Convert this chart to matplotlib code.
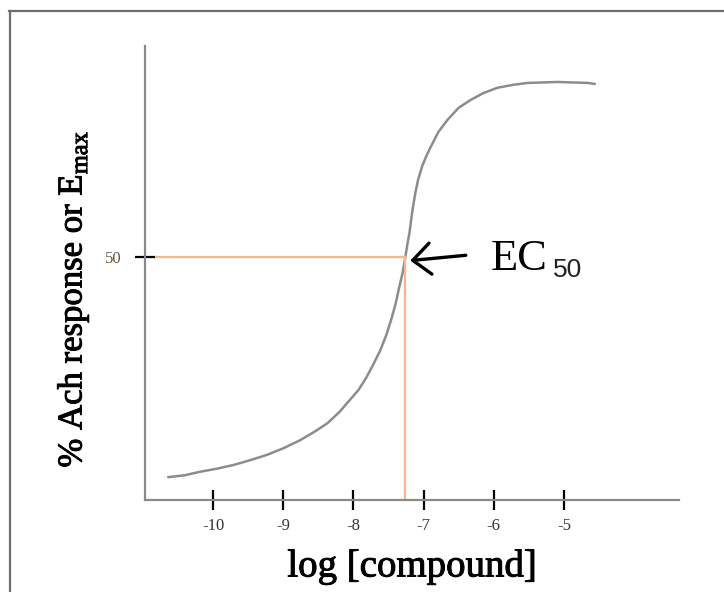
import matplotlib
matplotlib.use('Agg')
import matplotlib.pyplot as plt
import matplotlib.patheffects as pe
from matplotlib.lines import Line2D

plt.rcParams['axes.unicode_minus'] = False
plt.rcParams['mathtext.fontset'] = 'custom'
plt.rcParams['mathtext.rm'] = 'Liberation Serif'

# dose-response curve
log_conc = [-10.64, -10.40, -10.19, -9.96, -9.71, -9.47, -9.23, -8.99, -8.76,
            -8.56, -8.37, -8.20, -8.05, -7.93, -7.82, -7.72, -7.62, -7.53,
            -7.46, -7.40, -7.35, -7.30, -7.26, -7.23, -7.20, -7.16, -7.12,
            -7.08, -7.02, -6.96, -6.90, -6.79, -6.66, -6.50, -6.33, -6.15,
            -5.95, -5.73, -5.52, -5.09, -4.66, -4.56]
response = [4.7, 5.1, 5.8, 6.4, 7.2, 8.2, 9.3, 10.7, 12.3,
            14.0, 15.8, 18.1, 20.6, 22.6, 25.1, 27.8, 30.7, 34.0,
            37.2, 40.3, 43.6, 46.7, 50.0, 52.7, 55.1, 59.5, 63.0,
            65.8, 68.7, 70.8, 72.6, 75.7, 78.2, 80.7, 82.3, 83.7,
            84.8, 85.4, 85.8, 86.0, 85.8, 85.6]

x_ticks = [-10, -9, -8, -7, -6, -5]
x_tick_labels = ['-10', '-9', '-8', '-7', '-6', '-5']
ec50_x = -7.26
ec50_y = 50

fig = plt.figure(figsize=(7.24, 5.92), dpi=100)
ax = fig.add_axes([0.2003, 0.1554, 0.7376, 0.7669])

ax.plot(log_conc, response, color='#8c8c8c', linewidth=1.8,
        solid_capstyle='round', solid_joinstyle='round')

# EC50 guide lines
ax.plot([-10.82, ec50_x], [ec50_y, ec50_y], color='#f7b68a', linewidth=1.6)
ax.plot([ec50_x, ec50_x], [ec50_y, 0], color='#f7b68a', linewidth=1.6)

ax.set_xlim(-10.97, -3.36)
ax.set_ylim(0, 93.4)

for side in ['top', 'right']:
    ax.spines[side].set_visible(False)
for side in ['left', 'bottom']:
    ax.spines[side].set_color('#8a8a8a')
    ax.spines[side].set_linewidth(1.6)

ax.set_xticks(x_ticks)
ax.set_xticklabels(x_tick_labels, family='Liberation Serif', fontsize=12, color='#333333')
ax.tick_params(axis='x', direction='inout', length=14, width=1.6, color='black', pad=6)

ax.set_yticks([ec50_y])
ax.set_yticklabels(['50'], family='Liberation Serif', fontsize=12, color='#6b5540')
ax.tick_params(axis='y', direction='inout', length=14, width=1.6, color='black', pad=10)

heavier = [pe.withStroke(linewidth=0.7, foreground='black')]
ax.set_xlabel('log [compound]', family='Liberation Serif', fontsize=28, labelpad=10,
              path_effects=heavier)
fig.text(0.101, 0.495, r'% Ach response or E$_{\mathregular{max}}$',
         family='Liberation Serif', fontsize=25, rotation=90, ha='center', va='center',
         path_effects=heavier)

# EC50 label and arrow
ax.annotate('', xy=(-7.23, 49.2), xytext=(-6.36, 50.4),
            arrowprops=dict(arrowstyle='->,head_length=0.4,head_width=0.35',
                            color='black', lw=2.4, mutation_scale=32))
ax.text(-6.05, 47.3, 'EC', family='Liberation Serif', fontsize=32, ha='left', va='baseline')
ax.text(-5.16, 45.9, '50', family='Liberation Sans', fontsize=19, ha='left', va='baseline',
        color='#222222')

# screenshot frame on top and left
fig.add_artist(Line2D([0.012, 1.0], [0.982, 0.982], color='#6e6e6e', linewidth=1.6,
                      transform=fig.transFigure))
fig.add_artist(Line2D([0.0145, 0.0145], [0.0, 0.982], color='#6e6e6e', linewidth=1.6,
                      transform=fig.transFigure))

fig.savefig('out.png', dpi=100)
